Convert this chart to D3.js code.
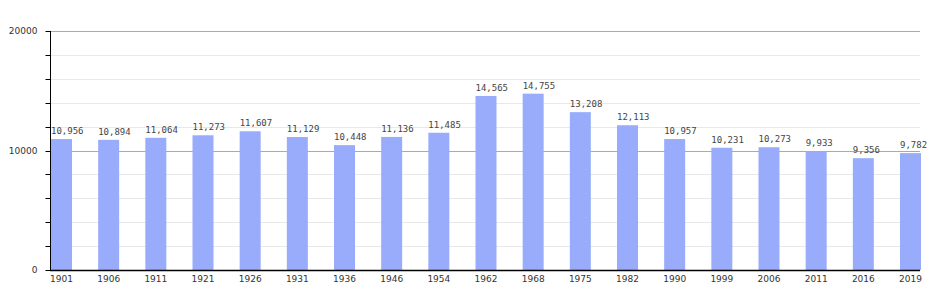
<!DOCTYPE html>
<meta charset="utf-8">
<script src="https://d3js.org/d3.v7.js"></script>
<style>
  body { margin: 0; background: #fff; }
  text { font-family: "DejaVu Sans", Verdana, sans-serif; }
</style>
<div id="chart"></div>
<script>
  // data
  var years = ["1901","1906","1911","1921","1926","1931","1936","1946","1954","1962","1968","1975","1982","1990","1999","2006","2011","2016","2019"]
  var population = [10956,10894,11064,11273,11607,11129,10448,11136,11485,14565,14755,13208,12113,10957,10231,10273,9933,9356,9782]
  var yTicks = [0, 10000, 20000]

  const margin = {top: 31, right: 30, bottom: 30, left: 50},
    width = 950 - margin.left - margin.right,
    height = 300 - margin.top - margin.bottom;

  const svg = d3.select("#chart").append("svg")
      .attr("width", 950).attr("height", 300)
    .append("g")
      .attr("transform", `translate(${margin.left},${margin.top})`);

  const x = d3.scaleBand().domain(years).range([0, width])
    .paddingInner(0.555).paddingOuter(0);
  const y = d3.scaleLinear().domain([0, 20000]).range([height, 0]);

  // light grid every 2000, darker at 10000 / 20000
  svg.selectAll(".grid")
    .data(d3.range(2000, 20001, 2000))
    .join("line")
      .attr("x1", 0).attr("x2", width)
      .attr("y1", d => Math.round(y(d)) + 0.5).attr("y2", d => Math.round(y(d)) + 0.5)
      .attr("stroke", d => d % 10000 == 0 ? "#aaa" : "#e8e8e8")
      .attr("stroke-width", 1);

  // bars
  svg.selectAll(".bar")
    .data(population)
    .join("rect")
      .attr("x", (d, i) => x(years[i]) + 1)
      .attr("width", x.bandwidth())
      .attr("y", d => y(d))
      .attr("height", d => height - y(d))
      .attr("fill", "#98acfb");

  // value labels, left aligned on the bar
  svg.selectAll(".lbl")
    .data(population)
    .join("text")
      .attr("x", (d, i) => x(years[i]) + 1)
      .attr("y", d => y(d) - 5)
      .attr("text-anchor", "start")
      .style("font-family", "'DejaVu Sans Mono', monospace")
      .attr("font-size", "9px")
      .attr("fill", "#444")
      .text(d => d3.format(",")(d));

  // y axis: minor ticks every 2000, labels at 0/10000/20000
  const yAxis = svg.append("g").attr("transform", "translate(0.5,0)");
  yAxis.append("line").attr("y1", 0).attr("y2", height).attr("stroke", "#000");
  yAxis.selectAll(".tk")
    .data(d3.range(0, 20001, 2000))
    .join("line")
      .attr("x1", -5).attr("x2", 0)
      .attr("y1", d => Math.round(y(d)) + 0.5).attr("y2", d => Math.round(y(d)) + 0.5)
      .attr("stroke", "#000");
  yAxis.selectAll(".yl")
    .data(yTicks)
    .join("text")
      .attr("x", -13).attr("y", d => y(d) + 3)
      .attr("text-anchor", "end")
      .attr("font-size", "9px")
      .attr("fill", "#333")
      .text(d => d);

  // x axis
  svg.append("line")
    .attr("x1", 0).attr("x2", width)
    .attr("y1", height + 0.5).attr("y2", height + 0.5)
    .attr("stroke", "#000").attr("stroke-width", 1.5);
  svg.selectAll(".xl")
    .data(years)
    .join("text")
      .attr("x", d => x(d) + 1 + x.bandwidth() / 2)
      .attr("y", height + 12)
      .attr("text-anchor", "middle")
      .attr("font-size", "9px")
      .attr("fill", "#333")
      .text(d => d);
</script>
